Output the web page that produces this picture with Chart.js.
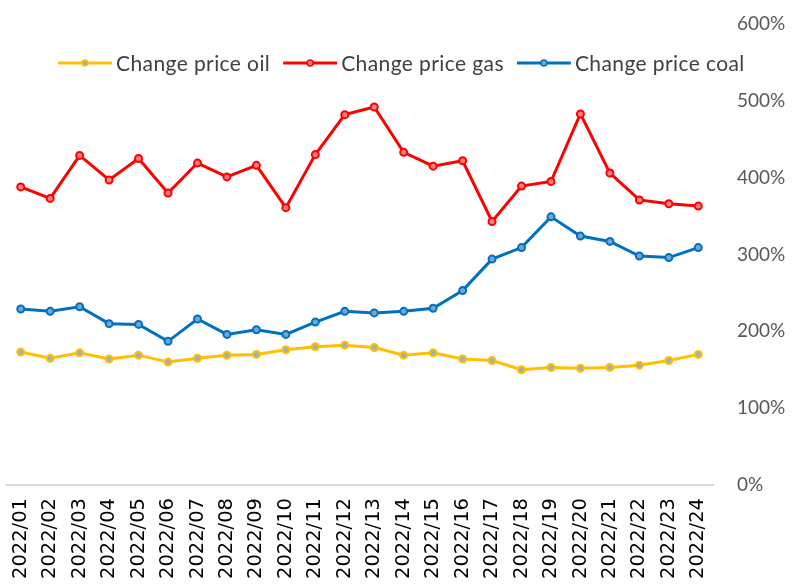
<!DOCTYPE html>
<html lang="en">
<head>
<meta charset="UTF-8">
<title>Change price</title>
<style>
  html, body { margin: 0; padding: 0; background: #fff; }
  #wrap { width: 794px; height: 586px; }
</style>
</head>
<body>
<div id="wrap"><canvas id="chart"></canvas></div>
<script src="https://cdn.jsdelivr.net/npm/chart.js"></script>
<script>
const months = ["2022/01","2022/02","2022/03","2022/04","2022/05","2022/06","2022/07","2022/08",
  "2022/09","2022/10","2022/11","2022/12","2022/13","2022/14","2022/15","2022/16",
  "2022/17","2022/18","2022/19","2022/20","2022/21","2022/22","2022/23","2022/24"];
// values in percent
const oilChange  = [173,165,172,164,169,160,165,169,170,176,180,182,179,169,172,164,162,150,153,152,153,156,162,170];
const gasChange  = [388,373,429,397,425,380,419,401,416,361,430,482,492,433,415,422,343,389,395,483,406,371,366,363];
const coalChange = [229,226,232,210,209,187,216,196,202,196,212,226,224,226,230,253,294,309,349,324,317,298,296,309];
const yTicks = [0,100,200,300,400,500,600];

// legend drawn by hand: line + dot + label, laid out in one row
const lineLegend = {
    id: 'lineLegend',
    afterDraw(chart) {
        const ctx = chart.ctx;
        const y = 63;
        let x = 58;
        ctx.save();
        ctx.font = '21px Lato, sans-serif';
        ctx.letterSpacing = '0.4px';
        ctx.textBaseline = 'middle';
        chart.data.datasets.forEach(ds => {
            ctx.strokeStyle = ds.borderColor;
            ctx.lineWidth = 3;
            ctx.beginPath();
            ctx.moveTo(x, y);
            ctx.lineTo(x + 54, y);
            ctx.stroke();
            ctx.beginPath();
            ctx.arc(x + 27, y, 3, 0, Math.PI * 2);
            ctx.fillStyle = ds.pointBackgroundColor;
            ctx.fill();
            ctx.lineWidth = 1.5;
            ctx.stroke();
            x += 58;
            ctx.fillStyle = '#404040';
            ctx.fillText(ds.label, x, y + 1);
            x += ctx.measureText(ds.label).width + 13;
        });
        ctx.restore();
    }
};

function series(label, data, color, fill) {
    return {
        label: label,
        data: data,
        borderColor: color,
        backgroundColor: color,
        pointBackgroundColor: fill,
        pointBorderColor: color,
        pointRadius: 3.5,
        pointBorderWidth: 2,
        borderWidth: 3,
        tension: 0
    };
}

new Chart(document.getElementById('chart'), {
    type: 'line',
    data: {
        labels: months,
        datasets: [
            series('Change price oil', oilChange, '#FFC000', '#9fb0b8'),
            series('Change price gas', gasChange, '#FF0000', '#ff8080'),
            series('Change price coal', coalChange, '#0070C0', '#6fa8d6')
        ]
    },
    options: {
        responsive: true,
        maintainAspectRatio: false,
        animation: false,
        layout: { padding: { left: 1, right: 0, top: 24, bottom: 0 } },
        plugins: {
            legend: { display: false },
            tooltip: { enabled: false }
        },
        scales: {
            x: {
                offset: true,
                grid: { display: false, drawTicks: false },
                border: { display: true, color: '#d9d9d9', width: 2 },
                ticks: {
                    autoSkip: false,
                    minRotation: 90,
                    maxRotation: 90,
                    padding: 13,
                    color: '#000',
                    font: { family: 'DejaVu Sans', size: 19.5 }
                },
                afterFit: s => { s.height = 101; s.paddingLeft = 0; s.paddingRight = 0; }
            },
            y: {
                position: 'right',
                min: 0,
                max: 600,
                afterBuildTicks: axis => { axis.ticks = yTicks.map(v => ({ value: v })); },
                grid: { display: false, drawTicks: false },
                border: { display: false },
                ticks: {
                    crossAlign: 'near',
                    padding: 24,
                    color: '#595959',
                    font: { family: 'Lato', size: 19 },
                    callback: v => v + '%'
                },
                afterFit: s => { s.width = 81; s.paddingTop = 0; s.paddingBottom = 0; }
            }
        }
    },
    plugins: [lineLegend]
});
</script>
</body>
</html>
